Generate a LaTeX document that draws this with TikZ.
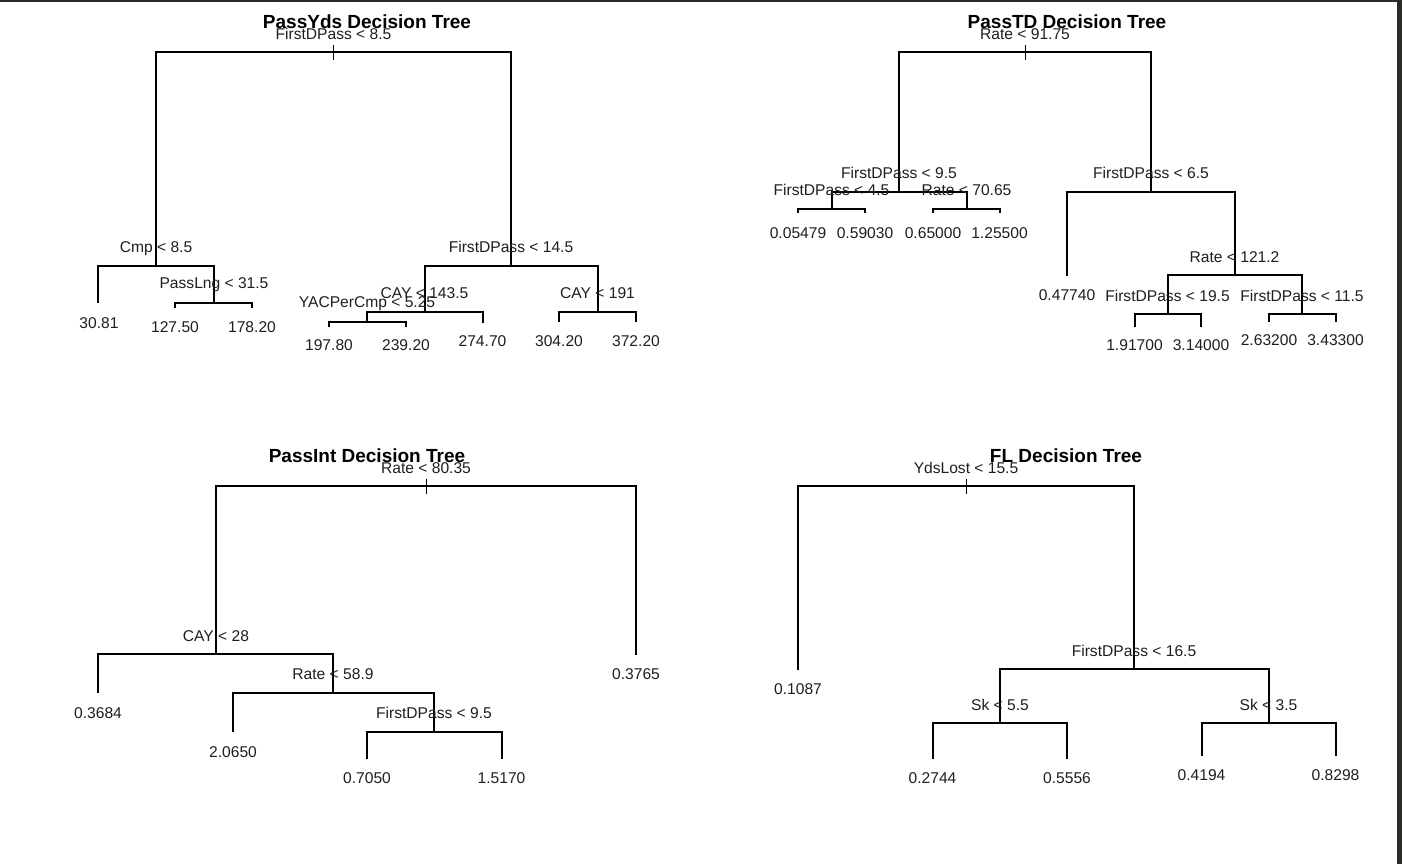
\documentclass[tikz,border=0pt]{standalone}
\usepackage{fontspec}
\setmainfont{Liberation Sans}
\newcommand\lblfont{\fontsize{15.6}{18}\selectfont}
\newcommand\ttlfont{\fontsize{19}{22}\selectfont\bfseries}
\definecolor{framecol}{HTML}{2A2A26}
\begin{document}
\begin{tikzpicture}[x=1pt,y=-1pt,
  edge/.style={line width=2pt, line cap=butt, line join=miter},
  tickmark/.style={line width=1pt},
  lbl/.style={font=\lblfont, inner sep=0pt, text height=11.2pt, text depth=0pt, text=black!88},
  ttl/.style={font=\ttlfont, inner sep=0pt, text height=13.6pt, text depth=0pt}]
\useasboundingbox (0,0) rectangle (1402,864);
\fill[white] (0,0) rectangle (1402,864);
\fill[framecol] (0,0) rectangle (1402,2.5);
\fill[framecol] (1397,0) rectangle (1402,864);

% ---------------- Tree 1: PassYds ----------------
\coordinate (a0) at (333.5,52.5);
\coordinate (a1) at (156,266);
\coordinate (a2) at (511,266);
\coordinate (a3) at (98,303);
\coordinate (a4) at (214,303);
\coordinate (a5) at (175,308);
\coordinate (a6) at (252,308);
\coordinate (a7) at (424.5,312);
\coordinate (a8) at (597.5,312);
\coordinate (a9) at (367,322);
\coordinate (a10) at (482.5,323);
\coordinate (a11) at (329,327);
\coordinate (a12) at (406,327);
\coordinate (a13) at (559,322);
\coordinate (a14) at (636,322);
\draw[edge] (a0) -| (a1); \draw[edge] (a0) -| (a2);
\draw[edge] (a1) -| (a3); \draw[edge] (a1) -| (a4);
\draw[edge] (a4) -| (a5); \draw[edge] (a4) -| (a6);
\draw[edge] (a2) -| (a7); \draw[edge] (a2) -| (a8);
\draw[edge] (a7) -| (a9); \draw[edge] (a7) -| (a10);
\draw[edge] (a9) -| (a11); \draw[edge] (a9) -| (a12);
\draw[edge] (a8) -| (a13); \draw[edge] (a8) -| (a14);
\draw[tickmark] ([yshift=-7.5pt]a0) -- ([yshift=7.5pt]a0);
\node[ttl] (t1) at (367,22) {PassYds Decision Tree};
\node[lbl] (la0) at (333.5,34) {FirstDPass < 8.5};
\node[lbl] (la1) at (156,247) {Cmp < 8.5};
\node[lbl] (la2) at (511,247) {FirstDPass < 14.5};
\node[lbl] (la3) at (99,323) {30.81};
\node[lbl] (la4) at (214,283) {PassLng < 31.5};
\node[lbl] (la5) at (175,327) {127.50};
\node[lbl] (la6) at (252,327) {178.20};
\node[lbl] (la7) at (424.5,293) {CAY < 143.5};
\node[lbl] (la8) at (597.5,293) {CAY < 191};
\node[lbl] (la9) at (367,302) {YACPerCmp < 5.25};
\node[lbl] (la10) at (482.5,341) {274.70};
\node[lbl] (la11) at (329,345) {197.80};
\node[lbl] (la12) at (406,345) {239.20};
\node[lbl] (la13) at (559,341) {304.20};
\node[lbl] (la14) at (636,341) {372.20};

% ---------------- Tree 2: PassTD ----------------
\coordinate (b0) at (1025,52.5);
\coordinate (b1) at (899,192);
\coordinate (b2) at (1151,192);
\coordinate (b3) at (831.5,209);
\coordinate (b4) at (966.5,209);
\coordinate (b5) at (798,213);
\coordinate (b6) at (865,213);
\coordinate (b7) at (933,213);
\coordinate (b8) at (999.5,213);
\coordinate (b9) at (1067,276);
\coordinate (b10) at (1234.5,275);
\coordinate (b11) at (1167.5,314);
\coordinate (b12) at (1302,314);
\coordinate (b13) at (1134.5,327);
\coordinate (b14) at (1201,327);
\coordinate (b15) at (1269,322);
\coordinate (b16) at (1335.5,322);
\draw[edge] (b0) -| (b1); \draw[edge] (b0) -| (b2);
\draw[edge] (b1) -| (b3); \draw[edge] (b1) -| (b4);
\draw[edge] (b3) -| (b5); \draw[edge] (b3) -| (b6);
\draw[edge] (b4) -| (b7); \draw[edge] (b4) -| (b8);
\draw[edge] (b2) -| (b9); \draw[edge] (b2) -| (b10);
\draw[edge] (b10) -| (b11); \draw[edge] (b10) -| (b12);
\draw[edge] (b11) -| (b13); \draw[edge] (b11) -| (b14);
\draw[edge] (b12) -| (b15); \draw[edge] (b12) -| (b16);
\draw[tickmark] ([yshift=-7.5pt]b0) -- ([yshift=7.5pt]b0);
\node[ttl] (t2) at (1067,22) {PassTD Decision Tree};
\node[lbl] (lb0) at (1025,34) {Rate < 91.75};
\node[lbl] (lb1) at (899,173) {FirstDPass < 9.5};
\node[lbl] (lb2) at (1151,173) {FirstDPass < 6.5};
\node[lbl] (lb3) at (831.5,190) {FirstDPass < 4.5};
\node[lbl] (lb4) at (966.5,190) {Rate < 70.65};
\node[lbl] (lb5) at (798,233) {0.05479};
\node[lbl] (lb6) at (865,233) {0.59030};
\node[lbl] (lb7) at (933,233) {0.65000};
\node[lbl] (lb8) at (999.5,233) {1.25500};
\node[lbl] (lb9) at (1067,295) {0.47740};
\node[lbl] (lb10) at (1234.5,257) {Rate < 121.2};
\node[lbl] (lb11) at (1167.5,296) {FirstDPass < 19.5};
\node[lbl] (lb12) at (1302,296) {FirstDPass < 11.5};
\node[lbl] (lb13) at (1134.5,345) {1.91700};
\node[lbl] (lb14) at (1201,345) {3.14000};
\node[lbl] (lb15) at (1269,340) {2.63200};
\node[lbl] (lb16) at (1335.5,340) {3.43300};

% ---------------- Tree 3: PassInt ----------------
\coordinate (c0) at (426,486);
\coordinate (c1) at (216,654);
\coordinate (c2) at (636,655);
\coordinate (c3) at (98,693);
\coordinate (c4) at (333,692.5);
\coordinate (c5) at (233,732);
\coordinate (c6) at (434,732);
\coordinate (c7) at (367,759);
\coordinate (c8) at (501.5,759);
\draw[edge] (c0) -| (c1); \draw[edge] (c0) -| (c2);
\draw[edge] (c1) -| (c3); \draw[edge] (c1) -| (c4);
\draw[edge] (c4) -| (c5); \draw[edge] (c4) -| (c6);
\draw[edge] (c6) -| (c7); \draw[edge] (c6) -| (c8);
\draw[tickmark] ([yshift=-7.5pt]c0) -- ([yshift=7.5pt]c0);
\node[ttl] (t3) at (367,455.5) {PassInt Decision Tree};
\node[lbl] (lc0) at (426,467.5) {Rate < 80.35};
\node[lbl] (lc1) at (216,636) {CAY < 28};
\node[lbl] (lc2) at (636,674) {0.3765};
\node[lbl] (lc3) at (98,712.5) {0.3684};
\node[lbl] (lc4) at (333,674) {Rate < 58.9};
\node[lbl] (lc5) at (233,751.5) {2.0650};
\node[lbl] (lc6) at (434,713) {FirstDPass < 9.5};
\node[lbl] (lc7) at (367,778) {0.7050};
\node[lbl] (lc8) at (501.5,778) {1.5170};

% ---------------- Tree 4: FL ----------------
\coordinate (d0) at (966,486);
\coordinate (d1) at (798,670);
\coordinate (d2) at (1134,669);
\coordinate (d3) at (1000,723);
\coordinate (d4) at (1268.5,723);
\coordinate (d5) at (932.5,759);
\coordinate (d6) at (1067,759);
\coordinate (d7) at (1201.5,755.5);
\coordinate (d8) at (1335.5,755.5);
\draw[edge] (d0) -| (d1); \draw[edge] (d0) -| (d2);
\draw[edge] (d2) -| (d3); \draw[edge] (d2) -| (d4);
\draw[edge] (d3) -| (d5); \draw[edge] (d3) -| (d6);
\draw[edge] (d4) -| (d7); \draw[edge] (d4) -| (d8);
\draw[tickmark] ([yshift=-7.5pt]d0) -- ([yshift=7.5pt]d0);
\node[ttl] (t4) at (1066,455.5) {FL Decision Tree};
\node[lbl] (ld0) at (966,467.5) {YdsLost < 15.5};
\node[lbl] (ld1) at (798,688.5) {0.1087};
\node[lbl] (ld2) at (1134,650.5) {FirstDPass < 16.5};
\node[lbl] (ld3) at (1000,705) {Sk < 5.5};
\node[lbl] (ld4) at (1268.5,705) {Sk < 3.5};
\node[lbl] (ld5) at (932.5,778) {0.2744};
\node[lbl] (ld6) at (1067,778) {0.5556};
\node[lbl] (ld7) at (1201.5,775) {0.4194};
\node[lbl] (ld8) at (1335.5,775) {0.8298};
\end{tikzpicture}
\end{document}
